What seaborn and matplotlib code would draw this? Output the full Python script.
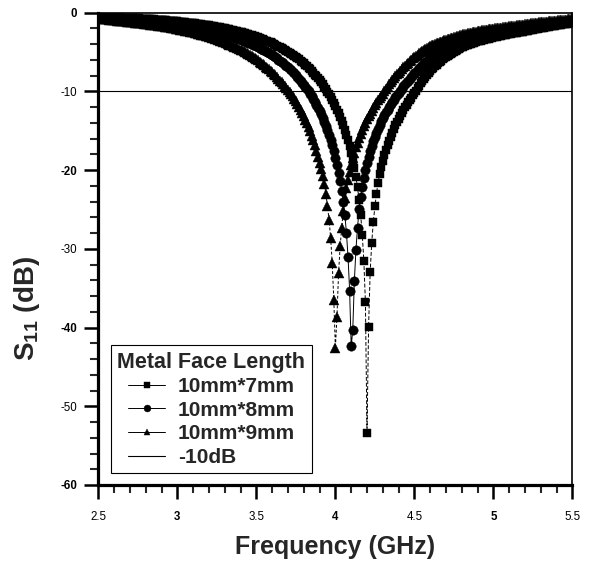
import numpy as np
import pandas as pd
import matplotlib
matplotlib.use("Agg")
import matplotlib.pyplot as plt
from matplotlib.ticker import MultipleLocator
import seaborn as sns

# ---------------- data ----------------
freq = np.round(np.arange(250, 551) / 100.0, 2)  # 2.50 ... 5.50 GHz, 0.01 step

s11_7mm = [
    -0.48,
    -0.49, -0.50, -0.50, -0.51, -0.52, -0.53, -0.54, -0.54, -0.55, -0.56,
    -0.57, -0.58, -0.59, -0.60, -0.61, -0.62, -0.63, -0.64, -0.65, -0.66,
    -0.67, -0.68, -0.70, -0.71, -0.72, -0.73, -0.74, -0.76, -0.77, -0.78,
    -0.79, -0.81, -0.82, -0.84, -0.85, -0.87, -0.88, -0.89, -0.91, -0.92,
    -0.94, -0.96, -0.98, -1.00, -1.02, -1.03, -1.05, -1.07, -1.09, -1.11,
    -1.13, -1.16, -1.18, -1.20, -1.23, -1.25, -1.27, -1.29, -1.32, -1.34,
    -1.37, -1.40, -1.42, -1.45, -1.48, -1.51, -1.54, -1.56, -1.59, -1.62,
    -1.66, -1.69, -1.73, -1.76, -1.80, -1.84, -1.87, -1.91, -1.94, -1.98,
    -2.03, -2.07, -2.12, -2.17, -2.22, -2.26, -2.31, -2.36, -2.40, -2.45,
    -2.51, -2.57, -2.63, -2.69, -2.75, -2.81, -2.87, -2.93, -2.99, -3.05,
    -3.13, -3.21, -3.29, -3.37, -3.46, -3.54, -3.62, -3.70, -3.78, -3.86,
    -3.97, -4.08, -4.19, -4.30, -4.41, -4.51, -4.62, -4.73, -4.84, -4.95,
    -5.08, -5.21, -5.34, -5.48, -5.63, -5.78, -5.93, -6.10, -6.27, -6.45,
    -6.63, -6.82, -7.01, -7.21, -7.42, -7.64, -7.86, -8.09, -8.34, -8.59,
    -8.85, -9.12, -9.41, -9.72, -10.04, -10.38, -10.73, -11.10, -11.48, -11.87,
    -12.30, -12.75, -13.23, -13.75, -14.30, -14.88, -15.51, -16.19, -16.96, -17.79,
    -18.70, -19.72, -20.88, -22.2, -23.8, -25.7, -28.2, -31.5, -36.8, -53.4,
    -39.9, -33.0, -29.2, -26.6, -24.6, -23.0, -21.6, -20.5, -19.6, -18.8,
    -18.10, -17.45, -16.85, -16.28, -15.75, -15.25, -14.77, -14.32, -13.88, -13.45,
    -13.07, -12.70, -12.35, -12.01, -11.68, -11.37, -11.07, -10.78, -10.50, -10.22,
    -9.89, -9.57, -9.26, -8.96, -8.67, -8.39, -8.12, -7.86, -7.61, -7.40,
    -7.19, -6.99, -6.80, -6.61, -6.43, -6.25, -6.08, -5.91, -5.75, -5.60,
    -5.46, -5.33, -5.20, -5.08, -4.96, -4.84, -4.73, -4.62, -4.51, -4.40,
    -4.32, -4.24, -4.16, -4.09, -4.01, -3.94, -3.86, -3.79, -3.72, -3.65,
    -3.59, -3.54, -3.49, -3.43, -3.38, -3.33, -3.28, -3.22, -3.17, -3.12,
    -3.08, -3.04, -2.99, -2.95, -2.91, -2.87, -2.83, -2.78, -2.74, -2.70,
    -2.67, -2.63, -2.60, -2.56, -2.53, -2.49, -2.46, -2.42, -2.39, -2.35,
    -2.31, -2.27, -2.23, -2.19, -2.15, -2.11, -2.07, -2.03, -1.99, -1.95,
    -1.92, -1.88, -1.85, -1.81, -1.78, -1.74, -1.71, -1.67, -1.64, -1.60,
    -1.57, -1.54, -1.51, -1.48, -1.45, -1.42, -1.39, -1.36, -1.33, -1.30,
]

s11_8mm = [
    -0.63,
    -0.64, -0.65, -0.66, -0.68, -0.69, -0.70, -0.71, -0.72, -0.74, -0.75,
    -0.76, -0.78, -0.79, -0.80, -0.82, -0.83, -0.84, -0.86, -0.87, -0.88,
    -0.90, -0.92, -0.93, -0.95, -0.97, -0.98, -1.00, -1.02, -1.03, -1.05,
    -1.07, -1.09, -1.11, -1.13, -1.15, -1.17, -1.19, -1.21, -1.23, -1.25,
    -1.27, -1.30, -1.32, -1.35, -1.37, -1.40, -1.42, -1.45, -1.47, -1.50,
    -1.53, -1.56, -1.60, -1.63, -1.66, -1.69, -1.72, -1.76, -1.79, -1.82,
    -1.86, -1.90, -1.94, -1.98, -2.02, -2.05, -2.09, -2.13, -2.17, -2.21,
    -2.26, -2.31, -2.36, -2.41, -2.47, -2.52, -2.57, -2.62, -2.67, -2.72,
    -2.79, -2.85, -2.92, -2.98, -3.05, -3.12, -3.18, -3.25, -3.31, -3.38,
    -3.46, -3.55, -3.63, -3.72, -3.80, -3.89, -3.97, -4.06, -4.14, -4.23,
    -4.34, -4.46, -4.57, -4.69, -4.80, -4.92, -5.03, -5.15, -5.26, -5.38,
    -5.52, -5.66, -5.81, -5.96, -6.11, -6.27, -6.43, -6.60, -6.77, -6.94,
    -7.12, -7.31, -7.51, -7.72, -7.94, -8.16, -8.39, -8.63, -8.88, -9.14,
    -9.41, -9.69, -9.98, -10.29, -10.61, -10.95, -11.30, -11.67, -12.06, -12.47,
    -12.89, -13.33, -13.84, -14.36, -14.91, -15.50, -16.14, -16.83, -17.58, -18.41,
    -19.32, -20.3, -21.4, -22.6, -24.0, -25.7, -28.0, -31.0, -35.3, -42.4,
    -40.3, -34.1, -30.1, -27.3, -25.0, -23.45, -22.14, -21.02, -20.02, -19.15,
    -18.35, -17.62, -16.95, -16.33, -15.75, -15.22, -14.72, -14.25, -13.81, -13.40,
    -13.02, -12.65, -12.30, -11.96, -11.64, -11.33, -11.04, -10.76, -10.48, -10.20,
    -9.92, -9.64, -9.37, -9.11, -8.86, -8.62, -8.38, -8.15, -7.92, -7.70,
    -7.49, -7.28, -7.08, -6.88, -6.69, -6.50, -6.31, -6.12, -5.94, -5.75,
    -5.61, -5.47, -5.33, -5.19, -5.05, -4.92, -4.79, -4.66, -4.53, -4.40,
    -4.31, -4.22, -4.14, -4.05, -3.97, -3.89, -3.80, -3.72, -3.63, -3.55,
    -3.49, -3.43, -3.37, -3.31, -3.25, -3.19, -3.13, -3.07, -3.01, -2.95,
    -2.90, -2.86, -2.81, -2.77, -2.72, -2.68, -2.63, -2.59, -2.54, -2.50,
    -2.47, -2.43, -2.40, -2.36, -2.33, -2.29, -2.26, -2.22, -2.19, -2.15,
    -2.12, -2.09, -2.06, -2.03, -2.00, -1.97, -1.94, -1.91, -1.88, -1.85,
    -1.82, -1.79, -1.77, -1.74, -1.71, -1.68, -1.65, -1.63, -1.60, -1.57,
    -1.54, -1.52, -1.49, -1.46, -1.44, -1.41, -1.38, -1.35, -1.33, -1.30,
    -1.28, -1.25, -1.23, -1.20, -1.18, -1.15, -1.13, -1.10, -1.08, -1.05,
]

s11_9mm = [
    -0.70,
    -0.72, -0.75, -0.77, -0.80, -0.82, -0.85, -0.87, -0.90, -0.92, -0.95,
    -0.97, -1.00, -1.02, -1.04, -1.07, -1.09, -1.11, -1.13, -1.16, -1.18,
    -1.20, -1.23, -1.25, -1.28, -1.30, -1.32, -1.35, -1.37, -1.40, -1.42,
    -1.45, -1.48, -1.50, -1.53, -1.56, -1.59, -1.62, -1.64, -1.67, -1.70,
    -1.73, -1.77, -1.80, -1.84, -1.87, -1.91, -1.94, -1.98, -2.01, -2.05,
    -2.09, -2.14, -2.18, -2.23, -2.27, -2.32, -2.36, -2.41, -2.45, -2.50,
    -2.55, -2.61, -2.66, -2.72, -2.77, -2.83, -2.88, -2.94, -2.99, -3.05,
    -3.12, -3.19, -3.26, -3.33, -3.40, -3.48, -3.55, -3.62, -3.69, -3.76,
    -3.85, -3.94, -4.04, -4.13, -4.22, -4.31, -4.40, -4.50, -4.59, -4.68,
    -4.80, -4.92, -5.04, -5.16, -5.28, -5.41, -5.53, -5.65, -5.77, -5.89,
    -6.05, -6.21, -6.38, -6.54, -6.70, -6.86, -7.02, -7.19, -7.35, -7.51,
    -7.73, -7.96, -8.18, -8.41, -8.64, -8.86, -9.09, -9.32, -9.54, -9.77,
    -10.04, -10.33, -10.63, -10.94, -11.27, -11.61, -11.96, -12.34, -12.73, -13.14,
    -13.58, -14.04, -14.53, -15.05, -15.60, -16.20, -16.84, -17.53, -18.29, -19.11,
    -19.9, -20.8, -21.7, -23.0, -24.6, -26.3, -28.6, -31.8, -36.5, -42.6,
    -38.6, -33.1, -29.7, -27.3, -25.2, -23.6, -22.3, -21.2, -20.2, -19.33,
    -18.52, -17.79, -17.12, -16.50, -15.92, -15.39, -14.89, -14.42, -13.97, -13.56,
    -13.18, -12.81, -12.45, -12.10, -11.77, -11.45, -11.15, -10.86, -10.60, -10.33,
    -10.00, -9.69, -9.39, -9.10, -8.82, -8.55, -8.29, -8.04, -7.80, -7.60,
    -7.37, -7.15, -6.94, -6.73, -6.53, -6.34, -6.16, -5.98, -5.80, -5.63,
    -5.48, -5.33, -5.18, -5.04, -4.90, -4.77, -4.64, -4.51, -4.38, -4.25,
    -4.16, -4.07, -3.98, -3.90, -3.82, -3.74, -3.66, -3.58, -3.50, -3.42,
    -3.35, -3.29, -3.23, -3.17, -3.11, -3.05, -2.99, -2.93, -2.86, -2.80,
    -2.75, -2.71, -2.66, -2.62, -2.57, -2.52, -2.48, -2.43, -2.39, -2.34,
    -2.31, -2.28, -2.25, -2.22, -2.19, -2.15, -2.12, -2.09, -2.06, -2.03,
    -2.00, -1.97, -1.95, -1.92, -1.89, -1.86, -1.84, -1.81, -1.78, -1.75,
    -1.72, -1.69, -1.67, -1.64, -1.61, -1.58, -1.56, -1.53, -1.50, -1.47,
    -1.44, -1.42, -1.39, -1.37, -1.34, -1.32, -1.29, -1.27, -1.24, -1.22,
    -1.20, -1.17, -1.15, -1.13, -1.11, -1.08, -1.06, -1.04, -1.01, -0.99,
    -0.97, -0.95, -0.93, -0.91, -0.89, -0.87, -0.85, -0.82, -0.80, -0.78,
]

series_names = ["10mm*7mm", "10mm*8mm", "10mm*9mm"]
ref_level = -10
ref_label = "-10dB"
legend_title = "Metal Face Length"
x_ticks = [2.5, 3, 3.5, 4, 4.5, 5, 5.5]
x_ticklabels = ["2.5", "3", "3.5", "4", "4.5", "5", "5.5"]
y_ticks = [0, -10, -20, -30, -40, -50, -60]
y_ticklabels = ["0", "-10", "-20", "-30", "-40", "-50", "-60"]

for arr in (s11_7mm, s11_8mm, s11_9mm):
    if len(arr) != len(freq):
        raise ValueError(f"length mismatch {len(arr)} vs {len(freq)}")

df = pd.DataFrame({"freq": freq,
                   series_names[0]: s11_7mm,
                   series_names[1]: s11_8mm,
                   series_names[2]: s11_9mm})
long = df.melt(id_vars="freq", var_name="size", value_name="s11")

# ---------------- style ----------------
sns.set_theme(style="ticks")
plt.rcParams["font.family"] = ["Liberation Sans", "DejaVu Sans"]
plt.rcParams["mathtext.fontset"] = "custom"
plt.rcParams["mathtext.rm"] = "Liberation Sans"
plt.rcParams["mathtext.bf"] = "Liberation Sans:bold"
plt.rcParams["mathtext.it"] = "Liberation Sans:italic"

fig = plt.figure(figsize=(5.9, 5.65), dpi=100)
ax = fig.add_axes([0.1666, 0.1416, 0.8037, 0.8359])

styles = {
    series_names[0]: dict(marker="s", markersize=6.0, linestyle=(0, (4, 2))),
    series_names[1]: dict(marker="o", markersize=6.8, linestyle="-"),
    series_names[2]: dict(marker="^", markersize=7.0, linestyle=(0, (3, 2))),
}
for name in series_names:
    sub = long[long["size"] == name]
    sns.lineplot(data=sub, x="freq", y="s11", ax=ax, color="black",
                 linewidth=0.7, markeredgewidth=0.3, markeredgecolor="black",
                 markerfacecolor="black",
                 estimator=None, sort=False, label=name, **styles[name])

ax.axhline(ref_level, color="black", linewidth=0.8, label=ref_label)

ax.set_xlim(2.5, 5.5)
ax.set_ylim(-60, 0)
ax.set_xticks(x_ticks)
ax.set_xticklabels(x_ticklabels)
ax.set_yticks(y_ticks)
ax.set_yticklabels(y_ticklabels)
ax.xaxis.set_minor_locator(MultipleLocator(0.1))
ax.yaxis.set_minor_locator(MultipleLocator(2))
ax.tick_params(which="major", direction="out", length=10, width=1.8,
               labelsize=8.3, colors="black", top=False, right=False)
ax.tick_params(which="minor", direction="out", length=5.5, width=1.5,
               top=False, right=False)
ax.tick_params(axis="x", which="major", pad=9)
ax.tick_params(axis="y", which="major", pad=5)

for lbl in ax.get_xticklabels():
    lbl.set_fontweight("bold" if lbl.get_text() in ("3", "4", "5") else "normal")
for lbl in ax.get_yticklabels():
    lbl.set_fontweight("bold" if lbl.get_text() in ("0", "-20", "-40", "-60") else "normal")

for side in ("left", "bottom"):
    ax.spines[side].set_linewidth(2.3)
for side in ("top", "right"):
    ax.spines[side].set_linewidth(1.2)
for sp in ax.spines.values():
    sp.set_color("black")

ax.set_xlabel("Frequency (GHz)", fontsize=18, fontweight="bold")
ax.set_ylabel(r"$\mathbf{S_{11}}$ (dB)", fontsize=20, fontweight="bold")
ax.xaxis.set_label_coords(0.5, -0.106)
ax.yaxis.set_label_coords(-0.118, 0.373)

handles, labels = ax.get_legend_handles_labels()
leg = ax.legend(handles, labels, title=legend_title, loc="lower left",
                bbox_to_anchor=(0.027, 0.025), borderaxespad=0,
                frameon=True, fancybox=False, edgecolor="black", framealpha=1,
                prop={"weight": "bold", "size": 15},
                title_fontproperties={"weight": "bold", "size": 15.5},
                handlelength=1.8, handletextpad=0.6, labelspacing=0.22,
                borderpad=0.3)
leg.get_frame().set_linewidth(0.8)
for h in leg.legend_handles:
    try:
        h.set_markersize(5)
        h.set_linestyle("-")
    except Exception:
        pass

fig.savefig("out.png", dpi=100)
